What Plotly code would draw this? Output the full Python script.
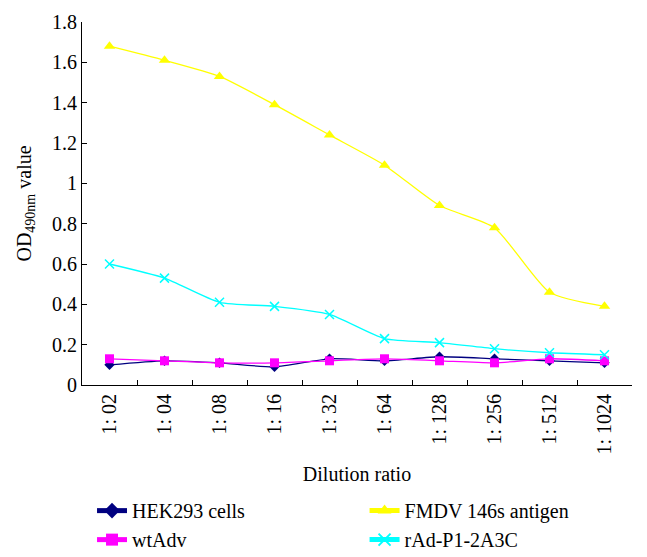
import plotly.graph_objects as go

categories = ["1: 02", "1: 04", "1: 08", "1: 16", "1: 32", "1: 64", "1: 128", "1: 256", "1: 512", "1: 1024"]
hek293 = [0.10, 0.12, 0.11, 0.09, 0.13, 0.12, 0.14, 0.13, 0.12, 0.11]
wtadv = [0.13, 0.12, 0.11, 0.11, 0.12, 0.13, 0.12, 0.11, 0.13, 0.12]
fmdv = [1.68, 1.61, 1.53, 1.39, 1.24, 1.09, 0.89, 0.78, 0.46, 0.39]
rad = [0.60, 0.53, 0.41, 0.39, 0.35, 0.23, 0.21, 0.18, 0.16, 0.15]

FONT = "Liberation Serif, Times New Roman, serif"
FS = 20

fig = go.Figure()
fig.add_trace(go.Scatter(x=categories, y=hek293, name="HEK293 cells", mode="lines+markers",
                         line=dict(color="#000080", width=1.3, shape="spline", smoothing=0.6),
                         marker=dict(symbol="diamond", size=8, color="#000080"), legend="legend"))
fig.add_trace(go.Scatter(x=categories, y=wtadv, name="wtAdv", mode="lines+markers",
                         line=dict(color="#FF00FF", width=1.3, shape="spline", smoothing=0.6),
                         marker=dict(symbol="square", size=9, color="#FF00FF"), legend="legend"))
fig.add_trace(go.Scatter(x=categories, y=fmdv, name="FMDV 146s antigen", mode="lines+markers",
                         line=dict(color="#FFFF00", width=1.3, shape="spline", smoothing=0.6),
                         marker=dict(symbol="triangle-up", size=10, color="#FFFF00"), legend="legend2"))
fig.add_trace(go.Scatter(x=categories, y=rad, name="rAd-P1-2A3C", mode="lines+markers",
                         line=dict(color="#00FFFF", width=1.3, shape="spline", smoothing=0.6),
                         marker=dict(symbol="x-thin", size=9, color="#00FFFF",
                                     line=dict(color="#00FFFF", width=1.5)), legend="legend2"))

# the page body adds an 8px offset, so the figure is sized/margined to compensate
fig.update_layout(
    width=639, height=549,
    margin=dict(l=74, r=15, t=14, b=172, autoexpand=False),
    paper_bgcolor="white", plot_bgcolor="white",
    font=dict(family=FONT, size=FS, color="black"),
    legend=dict(x=0.1315, y=0.120, xanchor="left", yanchor="top", xref="container", yref="container",
                font=dict(family=FONT, size=FS), tracegroupgap=0, itemsizing="constant",
                bgcolor="rgba(0,0,0,0)"),
    legend2=dict(x=0.558, y=0.120, xanchor="left", yanchor="top", xref="container", yref="container",
                 font=dict(family=FONT, size=FS), tracegroupgap=0, itemsizing="constant",
                 bgcolor="rgba(0,0,0,0)"),
    annotations=[dict(text="OD<sub>490nm</sub> value", xref="paper", yref="paper",
                      x=-0.1036, y=0.5, xanchor="center", yanchor="middle", textangle=-90,
                      showarrow=False, font=dict(family=FONT, size=FS, color="black"))],
)
fig.update_xaxes(
    type="category", range=[-0.5, 9.5], showline=True, linecolor="black", linewidth=1,
    ticks="inside", ticklen=5, tickcolor="black", tickson="boundaries",
    tickangle=-90, showgrid=False, zeroline=False, automargin=True,
    tickfont=dict(family=FONT, size=FS),
    title=dict(text="Dilution ratio", font=dict(family=FONT, size=FS), standoff=13),
)
fig.update_yaxes(
    range=[0, 1.8], dtick=0.2, tick0=0, showline=True, linecolor="black", linewidth=1,
    ticks="inside", ticklen=5, tickcolor="black", showgrid=False, zeroline=False, automargin=True,
    tickfont=dict(family=FONT, size=FS),
)

fig.write_html("out.html")
